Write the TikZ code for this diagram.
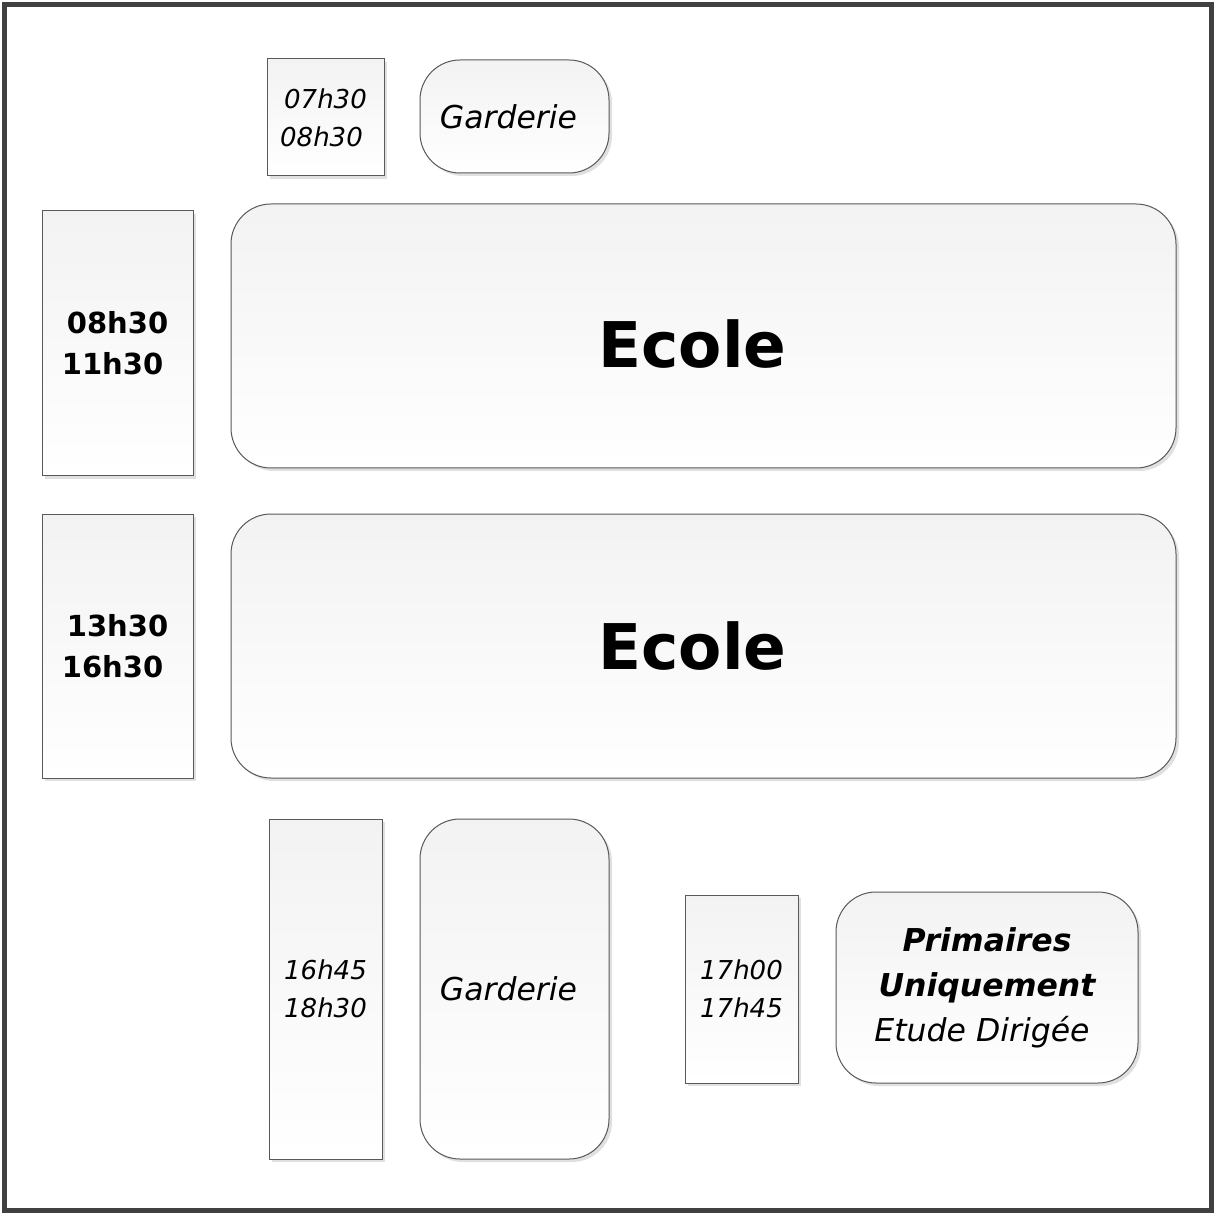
\documentclass[tikz,border=0pt]{standalone}
\usepackage{fontspec}
\setmainfont{DejaVu Sans}
\usetikzlibrary{shadows}
\newcommand{\hourfont}{\fontsize{26}{38}\selectfont\itshape}
\newcommand{\classfont}{\fontsize{29}{41}\selectfont\bfseries}
\newcommand{\carefont}{\fontsize{31.5}{45}\selectfont\itshape}
\newcommand{\ecolefont}{\fontsize{63}{70}\selectfont\bfseries}
\tikzstyle{hours} = [rectangle, draw=gray!70!black, line width=1pt,
    top color=gray!10, bottom color=white, inner sep=0pt, align=center,
    drop shadow={fill=black!12, opacity=1, shadow xshift=3pt, shadow yshift=-3pt}]
\tikzstyle{activity} = [hours, rounded corners=40pt]
\begin{document}
\begin{tikzpicture}[x=1pt,y=-1pt]
  \useasboundingbox (0,0) rectangle (1216,1214);
  \draw[line width=5pt, black!75] (4.5,4.5) rectangle (1211.5,1210.5);

  % morning
  \node[hours, minimum width=117pt, minimum height=117pt, font=\hourfont]
       (am) at (325.5,117.5) {07h30\\08h30\hspace*{8pt}};
  \node[activity, minimum width=189pt, minimum height=113pt, font=\carefont]
       (care-am) at (514.5,116.5) {Garderie\hspace*{12pt}};

  % school
  \node[hours, minimum width=151pt, minimum height=265pt, font=\classfont]
       (morning) at (117.5,343.5) {08h30\\11h30\hspace*{10pt}};
  \node[activity, minimum width=945pt, minimum height=264pt, font=\ecolefont]
       (school-am) at (703.5,336) {\raisebox{-8pt}[\height][\depth]{Ecole}\hspace*{22pt}};
  \node[hours, minimum width=151pt, minimum height=264pt, font=\classfont]
       (afternoon) at (117.5,646) {13h30\\16h30\hspace*{10pt}};
  \node[activity, minimum width=945pt, minimum height=264pt, font=\ecolefont]
       (school-pm) at (703.5,646) {Ecole\hspace*{22pt}};

  % evening
  \node[hours, minimum width=113pt, minimum height=340pt, font=\hourfont]
       (pm) at (325.5,989) {16h45\\18h30};
  \node[activity, minimum width=189pt, minimum height=340pt, font=\carefont]
       (care-pm) at (514.5,989) {Garderie\hspace*{12pt}};
  \node[hours, minimum width=113pt, minimum height=188pt, font=\hourfont]
       (study) at (741.5,989) {17h00\\17h45};
  \node[activity, minimum width=302pt, minimum height=191pt, font=\carefont]
       (primary) at (987,987.5) {{\bfseries Primaires}\\{\bfseries Uniquement}\\Etude Dirigée\hspace*{10pt}};
\end{tikzpicture}
\end{document}
